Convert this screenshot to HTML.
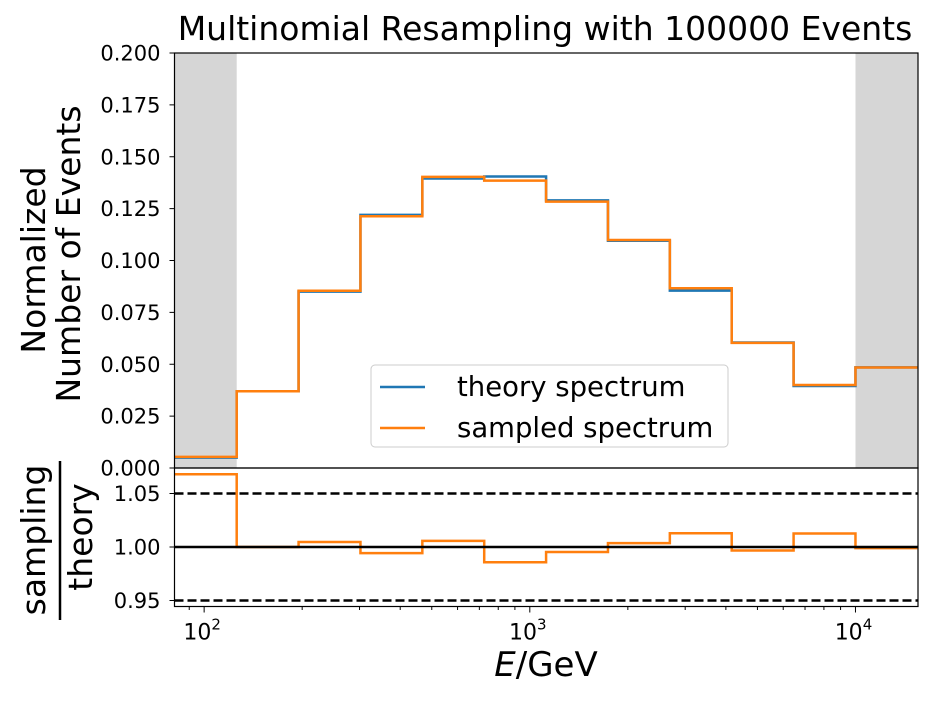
<!DOCTYPE html>
<html><head><meta charset="utf-8"><style>
body{margin:0;background:#fff;}
svg{display:block;font-family:"DejaVu Sans","Liberation Sans",sans-serif;}
</style></head><body>
<svg id="chart" width="934" height="701" xmlns="http://www.w3.org/2000/svg">
<text x="545" y="40" font-size="33" text-anchor="middle">Multinomial Resampling with 100000 Events</text>
<text font-size="33" text-anchor="middle" transform="translate(45,260) rotate(-90)">Normalized</text>
<text font-size="33" text-anchor="middle" transform="translate(80,254) rotate(-90)">Number of Events</text>
<text font-size="33" text-anchor="middle" transform="translate(45,540) rotate(-90)">sampling</text>
<line x1="60" y1="461" x2="60" y2="620" stroke="#000" stroke-width="2.5"/>
<text font-size="33" text-anchor="middle" transform="translate(92,537) rotate(-90)">theory</text>
<text x="546" y="676" font-size="34" text-anchor="middle"><tspan font-style="italic">E</tspan>/GeV</text>
<g id="g"></g>
</svg>
<script>
const edgesLog = [1.91,2.1,2.29,2.48,2.67,2.86,3.05,3.24,3.43,3.62,3.81,4.0,4.19];
const theory = [0.005,0.037,0.085,0.122,0.1395,0.1405,0.129,0.1095,0.0855,0.0605,0.0395,0.0485];
const sampled = [0.00534,0.037,0.0854,0.1213,0.1403,0.1385,0.1284,0.1099,0.0866,0.0603,0.04,0.04845];
const yTicksTop = [0,0.025,0.05,0.075,0.1,0.125,0.15,0.175,0.2];
const yTickLabelsTop = ["0.000","0.025","0.050","0.075","0.100","0.125","0.150","0.175","0.200"];
const yTicksRatio = [0.95,1.0,1.05];
const yTickLabelsRatio = ["0.95","1.00","1.05"];

const NS="http://www.w3.org/2000/svg", g=document.getElementById('g');
const L=174.5,R=918,T=53,B=468,RB=606.5;
const xminL=1.909,xmaxL=4.192;
const xL=l=>L+(l-xminL)/(xmaxL-xminL)*(R-L);
const x=v=>xL(Math.log10(v));
const y=v=>B-v/0.2*(B-T);
const yr=v=>547-(v-1)/0.05*53.5;
function el(t,a,name){const e=document.createElementNS(NS,t);for(const k in a)e.setAttribute(k,a[k]);


g.appendChild(e);return e;}
el('rect',{x:L,y:T,width:xL(2.1)-L,height:B-T,fill:'#d6d6d6'},'shade-left');
el('rect',{x:xL(4),y:T,width:R-xL(4),height:B-T,fill:'#d6d6d6'},'shade-right');
function steps(vals,fy){let d='';vals.forEach((v,i)=>{const a=xL(edgesLog[i]),b=xL(edgesLog[i+1]);d+=(i?'L':'M')+a+','+fy(v)+'L'+b+','+fy(v);});return d;}
const cp=el('clipPath',{id:'ct'},'clip-top');const cr=document.createElementNS(NS,'rect');cr.setAttribute('x',L);cr.setAttribute('y',T);cr.setAttribute('width',R-L);cr.setAttribute('height',B-T);cp.appendChild(cr);
el('path',{d:steps(theory,y),fill:'none',stroke:'#1f77b4','stroke-width':2.5,'clip-path':'url(#ct)'},'theory-spectrum-line');
el('path',{d:steps(sampled,y),fill:'none',stroke:'#ff7f0e','stroke-width':2.5,'clip-path':'url(#ct)'},'sampled-spectrum-line');
el('line',{x1:L,x2:R,y1:yr(1.05),y2:yr(1.05),stroke:'#000','stroke-width':2.5,'stroke-dasharray':'9,4'},'upper-5pct-line');
el('line',{x1:L,x2:R,y1:yr(0.95),y2:yr(0.95),stroke:'#000','stroke-width':2.5,'stroke-dasharray':'9,4'},'lower-5pct-line');
const ratio=sampled.map((s,i)=>s/theory[i]);
el('path',{d:steps(ratio,yr),fill:'none',stroke:'#ff7f0e','stroke-width':2.5},'ratio-line');
el('line',{x1:L,x2:R,y1:yr(1),y2:yr(1),stroke:'#000','stroke-width':2.5},'unity-line');
el('rect',{x:L,y:T,width:R-L,height:B-T,fill:'none',stroke:'#000','stroke-width':1.2},'top-axes-frame');
el('rect',{x:L,y:B,width:R-L,height:RB-B,fill:'none',stroke:'#000','stroke-width':1.2},'ratio-axes-frame');
yTicksTop.forEach((v,i)=>{el('line',{x1:L-5,x2:L,y1:y(v),y2:y(v),stroke:'#000'},'y-tick');
const t=el('text',{x:L-14,y:y(v)+7.5,'font-size':21,'text-anchor':'end'},'y-tick-label');t.textContent=yTickLabelsTop[i];});
yTicksRatio.forEach((v,i)=>{el('line',{x1:L-5,x2:L,y1:yr(v),y2:yr(v),stroke:'#000'},'ratio-y-tick');
const t=el('text',{x:L-14,y:yr(v)+7.5,'font-size':21,'text-anchor':'end'},'ratio-y-tick-label');t.textContent=yTickLabelsRatio[i];});
for(let d=1;d<=4;d++)for(let m=1;m<10;m++){const l=d+Math.log10(m);if(l<xminL||l>xmaxL)continue;
el('line',{x1:xL(l),x2:xL(l),y1:RB,y2:RB+(m==1?6:3.5),stroke:'#000'},'x-tick');
if(m==1){const t=el('text',{x:xL(l)-2,y:RB+33,'font-size':22,'text-anchor':'middle'},'x-tick-label');t.innerHTML='10<tspan dy="-10" font-size="15">'+d+'</tspan>';}}
el('rect',{x:371,y:365,width:357,height:82,rx:4,fill:'#fff','fill-opacity':0.85,stroke:'#ccc'},'legend-box');
el('line',{x1:380,x2:425,y1:387,y2:387,stroke:'#1f77b4','stroke-width':2.5},'legend-theory-swatch');
let t=el('text',{x:457,y:396,'font-size':27.5},'legend-theory-label');t.textContent='theory spectrum';
el('line',{x1:380,x2:425,y1:428,y2:428,stroke:'#ff7f0e','stroke-width':2.5},'legend-sampled-swatch');
t=el('text',{x:457,y:437,'font-size':27.5},'legend-sampled-label');t.textContent='sampled spectrum';
</script>
</body></html>
